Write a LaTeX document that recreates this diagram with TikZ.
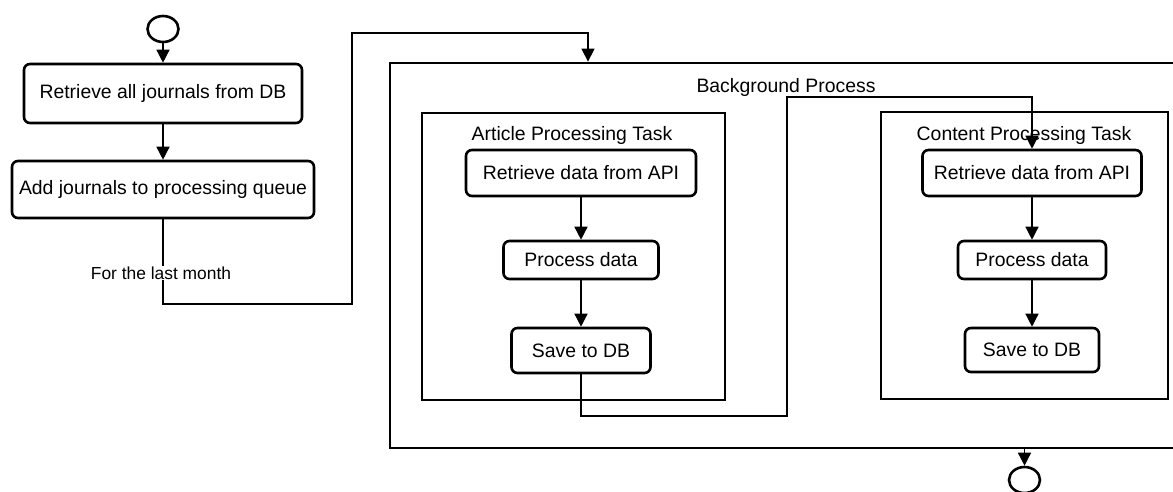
\documentclass[tikz,border=0pt]{standalone}
\usepackage{fontspec}
\setmainfont{Liberation Sans}
\usetikzlibrary{shapes,arrows.meta}
\tikzset{
  action/.style={draw, rounded corners=6pt, line width=2.6pt, inner sep=0pt},
  frame/.style={draw, line width=2.8pt, inner sep=0pt},
  terminal/.style={draw, ellipse, line width=2.6pt, inner sep=0pt,
    minimum width=31pt, minimum height=26pt},
  flow/.style={line width=1.4pt, ->},
  title/.style={inner sep=0pt}
}
\begin{document}
\begin{tikzpicture}[x=1pt, y=-1pt, font=\fontsize{19.4}{22}\selectfont,
    >={Triangle[length=13pt,width=13pt]}]
  \useasboundingbox (0,0) rectangle (1173,491);

  % main thread
  \node[terminal] (start) at (163,29) {};
  \node[action, minimum width=278pt, minimum height=59pt] (fetch) at (163,93.5) {Retrieve all journals from DB};
  \node[action, minimum width=302pt, minimum height=57pt] (enqueue) at (163,189.5) {Add journals to processing queue};
  \draw[flow] (start) -- (fetch);
  \draw[flow] (fetch) -- (enqueue);

  % background process
  \node[frame, minimum width=820pt, minimum height=385pt] (bg) at (800,255.5) {};
  \node[title] at (786,87) {Background Process};

  % article task
  \node[frame, minimum width=303pt, minimum height=287pt] (article) at (573.5,256.5) {};
  \node[title] at (572,135) {Article Processing Task};
  \node[action, minimum width=230pt, minimum height=46pt] (artapi) at (581,173) {Retrieve data from API};
  \node[action, minimum width=155pt, minimum height=38pt] (artproc) at (581,260) {Process data};
  \node[action, minimum width=139pt, minimum height=45pt] (artsave) at (581,350.5) {Save to DB};
  \draw[flow] (artapi) -- (artproc);
  \draw[flow] (artproc) -- (artsave);

  % content task
  \node[frame, minimum width=287pt, minimum height=287pt] (content) at (1024.5,255.5) {};
  \node[title] at (1024,135) {Content Processing Task};
  \node[action, minimum width=219pt, minimum height=46pt] (conapi) at (1032,173) {Retrieve data from API};
  \node[action, minimum width=148pt, minimum height=38pt] (conproc) at (1032,260) {Process data};
  \node[action, minimum width=134pt, minimum height=44pt] (consave) at (1032,350) {Save to DB};
  \draw[flow] (conapi) -- (conproc);
  \draw[flow] (conproc) -- (consave);

  \node[terminal] (stop) at (1024.5,480) {};

  % links between the parts
  \coordinate (m1) at (163,304);
  \coordinate (m2) at (352,33);
  \coordinate (m3) at (588,33);
  \draw[flow] (enqueue.south) -- (m1) -| (m2) -- (m3) -- (m3 |- bg.north);
  \node[fill=white, inner sep=1pt, font=\fontsize{17.4}{20}\selectfont] (month) at (161,273) {For the last month};

  \coordinate (h1) at (581,416);
  \coordinate (h2) at (787,97);
  \draw[flow] (artsave.south) -- (h1) -| (h2) -| (conapi.north);

  \draw[flow] (stop.north |- bg.south) -- (stop);
\end{tikzpicture}
\end{document}
